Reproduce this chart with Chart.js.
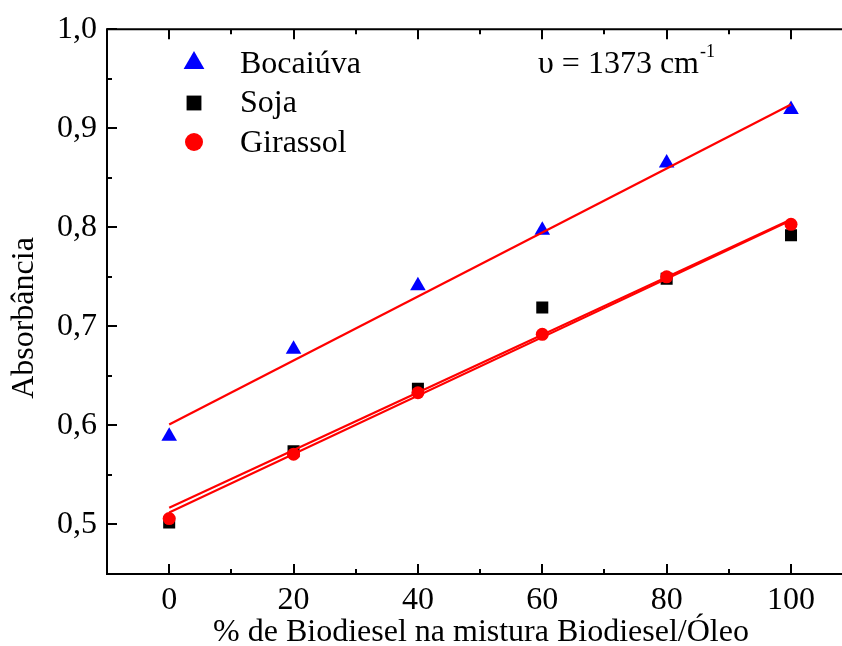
<!DOCTYPE html>
<html>
<head>
<meta charset="utf-8">
<script src="https://cdn.jsdelivr.net/npm/chart.js@4/dist/chart.umd.min.js"></script>
<style>
html,body{margin:0;padding:0;background:#fff;overflow:hidden;}
canvas{display:block;}
</style>
</head>
<body>
<canvas id="c" width="842" height="646"></canvas>
<script>
// ---- data ----
const xValues = [0, 20, 40, 60, 80, 100];
const bocaiuva = [0.589, 0.677, 0.741, 0.797, 0.865, 0.919];
const soja     = [0.502, 0.574, 0.637, 0.719, 0.748, 0.792];
const girassol = [0.506, 0.571, 0.633, 0.692, 0.750, 0.803];

// fitted lines (end points)
const fitX = [0, 100];
const fitBocaiuva = [0.601, 0.924];
const fitSoja     = [0.517, 0.808];
const fitGirassol = [0.512, 0.807];

// axes
const xMajorTicks = [0, 20, 40, 60, 80, 100];
const xMinorTicks = [-10, 10, 30, 50, 70, 90];
const yMajorTicks = [0.5, 0.6, 0.7, 0.8, 0.9, 1.0];
const yMinorTicks = [0.45, 0.55, 0.65, 0.75, 0.85, 0.95];
const xTickLabels = ['0', '20', '40', '60', '80', '100'];
const yTickLabels = ['0,5', '0,6', '0,7', '0,8', '0,9', '1,0'];

const seriesNames = ['Bocaiúva', 'Soja', 'Girassol'];
const xTitle = '% de Biodiesel na mistura Biodiesel/Óleo';
const yTitle = 'Absorbância';
const noteText = 'υ = 1373 cm';
const noteSup = '-1';

const FONT = "'Liberation Serif', 'Times New Roman', serif";
const FS = 32;

function pts(xs, ys) { return xs.map((x, i) => ({x: x, y: ys[i]})); }

const decor = {
  id: 'decor',
  afterDraw(chart) {
    const {ctx, chartArea: a, scales: {x, y}} = chart;
    ctx.save();
    ctx.strokeStyle = '#000';
    ctx.lineWidth = 2;
    ctx.lineCap = 'square';
    // frame: left, bottom, top (right edge lies outside the picture)
    ctx.beginPath();
    ctx.moveTo(chart.width + 5, a.top); ctx.lineTo(a.left, a.top);
    ctx.lineTo(a.left, a.bottom); ctx.lineTo(chart.width + 5, a.bottom);
    ctx.stroke();
    ctx.lineCap = 'butt';
    const tick = (list, len) => {
      list.forEach(v => {
        const px = Math.round(x.getPixelForValue(v));
        ctx.beginPath();
        ctx.moveTo(px, a.bottom); ctx.lineTo(px, a.bottom - len);
        ctx.moveTo(px, a.top); ctx.lineTo(px, a.top + len);
        ctx.stroke();
      });
    };
    const ytick = (list, len) => {
      list.forEach(v => {
        const py = Math.round(y.getPixelForValue(v));
        ctx.beginPath();
        ctx.moveTo(a.left, py); ctx.lineTo(a.left + len, py);
        ctx.stroke();
      });
    };
    tick(xMajorTicks, 10); tick(xMinorTicks, 5);
    ytick(yMajorTicks, 10); ytick(yMinorTicks, 5);

    // axis titles
    ctx.fillStyle = '#000';
    ctx.font = FS + 'px ' + FONT;
    ctx.textAlign = 'center';
    ctx.textBaseline = 'alphabetic';
    ctx.fillText(xTitle, 481, 641);
    ctx.save();
    ctx.translate(33, 318);
    ctx.rotate(-Math.PI / 2);
    ctx.fillText(yTitle, 0, 0);
    ctx.restore();

    // legend
    const ds = chart.data.datasets;
    const legendRows = [
      {i: 0, sy: 63, ty: 73, r: 12},
      {i: 1, sy: 103, ty: 112, r: 10.5},
      {i: 2, sy: 142, ty: 152, r: 9}
    ];
    legendRows.forEach(row => {
      const d = ds[row.i];
      ctx.fillStyle = d.backgroundColor;
      ctx.strokeStyle = d.backgroundColor;
      Chart.helpers.drawPoint(ctx, {pointStyle: d.pointStyle, radius: row.r, rotation: 0, borderWidth: 0}, 194, row.sy);
      ctx.fillStyle = '#000';
      ctx.textAlign = 'left';
      ctx.font = FS + 'px ' + FONT;
      ctx.fillText(d.label, 240, row.ty);
    });

    // note
    ctx.font = FS + 'px ' + FONT;
    ctx.textAlign = 'left';
    ctx.fillText(noteText, 538, 73);
    const w = ctx.measureText(noteText).width;
    ctx.font = '18px ' + FONT;
    ctx.fillText(noteSup, 538 + w + 1, 57);
    ctx.restore();
  }
};

new Chart(document.getElementById('c'), {
  type: 'scatter',
  data: {
    datasets: [
      {label: seriesNames[0], data: pts(xValues, bocaiuva), pointStyle: 'triangle', pointRadius: 9,
       backgroundColor: '#0000ff', borderColor: '#0000ff', borderWidth: 0, order: 3},
      {label: seriesNames[1], data: pts(xValues, soja), pointStyle: 'rect', pointRadius: 8.5,
       backgroundColor: '#000000', borderColor: '#000000', borderWidth: 0, order: 2},
      {label: seriesNames[2], data: pts(xValues, girassol), pointStyle: 'circle', pointRadius: 6.5,
       backgroundColor: '#ff0000', borderColor: '#ff0000', borderWidth: 0, order: 1},
      {label: 'fitB', data: pts(fitX, fitBocaiuva), showLine: true, pointRadius: 0,
       borderColor: '#ff0000', borderWidth: 2.2, order: 0},
      {label: 'fitS', data: pts(fitX, fitSoja), showLine: true, pointRadius: 0,
       borderColor: '#ff0000', borderWidth: 2.2, order: 0},
      {label: 'fitG', data: pts(fitX, fitGirassol), showLine: true, pointRadius: 0,
       borderColor: '#ff0000', borderWidth: 2.2, order: 0}
    ]
  },
  options: {
    responsive: false,
    animation: false,
    events: [],
    layout: {autoPadding: false, padding: {top: 27, right: 0, left: 0, bottom: 0}},
    plugins: {legend: {display: false}, tooltip: {enabled: false}},
    scales: {
      x: {
        type: 'linear', min: -10, max: 108.2,
        afterBuildTicks: s => { s.ticks = xMajorTicks.map(v => ({value: v})); },
        afterFit: s => { s.height = 72; s.paddingLeft = 0; s.paddingRight = 0; },
        grid: {display: false, drawTicks: false},
        border: {display: false},
        ticks: {
          color: '#000', padding: 7, maxRotation: 0, autoSkip: false,
          font: {family: FONT, size: FS},
          callback: (v) => xTickLabels[xMajorTicks.indexOf(v)]
        }
      },
      y: {
        type: 'linear', min: 0.45, max: 1.0,
        afterBuildTicks: s => { s.ticks = yMajorTicks.map(v => ({value: v})); },
        afterFit: s => { s.width = 107; },
        grid: {display: false, drawTicks: false},
        border: {display: false},
        ticks: {
          color: '#000', padding: 10, autoSkip: false,
          font: {family: FONT, size: FS},
          callback: (v) => { const i = yMajorTicks.findIndex(t => Math.abs(t - v) < 1e-9); return yTickLabels[i]; }
        }
      }
    }
  },
  plugins: [decor]
});
</script>
</body>
</html>
